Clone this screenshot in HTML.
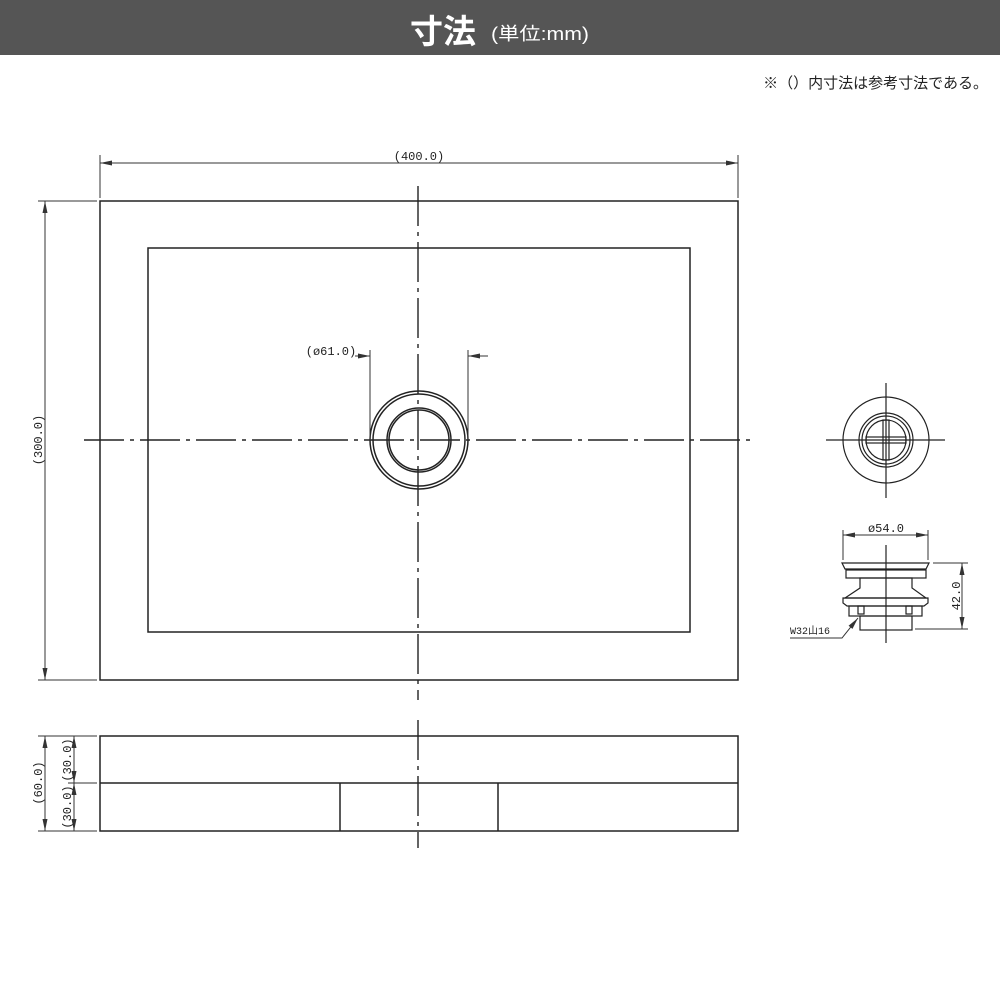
<!DOCTYPE html>
<html><head><meta charset="utf-8"><style>
body{margin:0;background:#fff;}
svg{display:block;}
</style></head><body>
<svg width="1000" height="1000" viewBox="0 0 1000 1000" xmlns="http://www.w3.org/2000/svg" font-family="Liberation Mono, DejaVu Sans Mono, monospace">
<defs>
<marker id="a" viewBox="0 0 12 6" refX="12" refY="3" markerWidth="12" markerHeight="6" orient="auto-start-reverse" markerUnits="userSpaceOnUse"><path d="M0,0.5 L12,3 L0,5.5 Z" fill="#333"/></marker>
</defs>
<rect x="0" y="0" width="1000" height="55" fill="#555"/>
<text x="410" y="43" fill="#fff" font-family="Liberation Sans, Noto Sans CJK JP, sans-serif" font-size="33" font-weight="bold">寸法</text>
<text x="491" y="40" fill="#fff" font-family="Liberation Sans, Noto Sans CJK JP, sans-serif" font-size="18" textLength="98" lengthAdjust="spacingAndGlyphs">(単位:mm)</text>
<text x="988" y="88" fill="#222" text-anchor="end" font-family="Liberation Sans, Noto Sans CJK JP, sans-serif" font-size="15">※（）内寸法は参考寸法である。</text>

<g stroke="#222" fill="none" stroke-width="1.5">
<rect x="100" y="201" width="638" height="479"/>
<rect x="148" y="248" width="542" height="384"/>
<circle cx="419" cy="440" r="49"/>
<circle cx="419" cy="440" r="46"/>
<circle cx="419" cy="440" r="32"/>
<circle cx="419" cy="440" r="30"/>
<rect x="100" y="736" width="638" height="95"/>
<line x1="100" y1="783" x2="738" y2="783"/>
<line x1="340" y1="783" x2="340" y2="831"/>
<line x1="498" y1="783" x2="498" y2="831"/>
</g>
<g stroke="#222" stroke-width="1.4" stroke-dasharray="40,6,4,6">
<line x1="418" y1="186" x2="418" y2="700"/>
<line x1="84" y1="440" x2="754" y2="440"/>
<line x1="418" y1="720" x2="418" y2="848"/>
</g>
<g stroke="#333" stroke-width="1" fill="none">
<line x1="100" y1="155" x2="100" y2="198"/>
<line x1="738" y1="155" x2="738" y2="198"/>
<line x1="100" y1="163" x2="738" y2="163" marker-start="url(#a)" marker-end="url(#a)"/>
<line x1="38" y1="201" x2="97" y2="201"/>
<line x1="38" y1="680" x2="97" y2="680"/>
<line x1="45" y1="201" x2="45" y2="680" marker-start="url(#a)" marker-end="url(#a)"/>
<line x1="370" y1="350" x2="370" y2="440"/>
<line x1="468" y1="350" x2="468" y2="440"/>
<line x1="355" y1="356" x2="370" y2="356" marker-end="url(#a)"/>
<line x1="488" y1="356" x2="468" y2="356" marker-end="url(#a)"/>
<line x1="38" y1="736" x2="97" y2="736"/>
<line x1="68" y1="783" x2="97" y2="783"/>
<line x1="38" y1="831" x2="97" y2="831"/>
<line x1="45" y1="736" x2="45" y2="831" marker-start="url(#a)" marker-end="url(#a)"/>
<line x1="74" y1="736" x2="74" y2="783" marker-start="url(#a)" marker-end="url(#a)"/>
<line x1="74" y1="783" x2="74" y2="831" marker-start="url(#a)" marker-end="url(#a)"/>
</g>
<g fill="#222" font-size="12">
<text x="419" y="160" text-anchor="middle">(400.0)</text>
<text x="331" y="355" text-anchor="middle">(ø61.0)</text>
<text transform="translate(42,440) rotate(-90)" text-anchor="middle">(300.0)</text>
<text transform="translate(42,783) rotate(-90)" text-anchor="middle">(60.0)</text>
<text transform="translate(71,760) rotate(-90)" text-anchor="middle">(30.0)</text>
<text transform="translate(71,807) rotate(-90)" text-anchor="middle">(30.0)</text>
</g>

<g stroke="#222" fill="none" stroke-width="1.2">
<circle cx="886" cy="440" r="43"/>
<circle cx="886" cy="440" r="27"/>
<circle cx="886" cy="440" r="24"/>
<circle cx="886" cy="440" r="20"/>
<line x1="826" y1="440" x2="945" y2="440"/>
<line x1="886" y1="383" x2="886" y2="498"/>
<rect x="866" y="437" width="40" height="6"/>
<rect x="883" y="420" width="6" height="40"/>
</g>
<g stroke="#222" fill="none" stroke-width="1.2">
<path d="M842,563 L929,563 L926,569 L845,569 Z"/>
<rect x="846" y="570" width="80" height="8"/>
<path d="M860,578 L912,578 L912,588 L926,598 L845,598 L860,588 Z"/>
<path d="M843,598 L928,598 L928,603 L924,606 L847,606 L843,603 Z"/>
<rect x="849" y="606" width="73" height="10"/>
<rect x="858" y="606" width="6" height="8"/>
<rect x="906" y="606" width="6" height="8"/>
<rect x="860" y="616" width="52" height="14"/>
<line x1="886" y1="545" x2="886" y2="643"/>
</g>
<g stroke="#333" stroke-width="1" fill="none">
<line x1="843" y1="530" x2="843" y2="560"/>
<line x1="928" y1="530" x2="928" y2="560"/>
<line x1="843" y1="535" x2="928" y2="535" marker-start="url(#a)" marker-end="url(#a)"/>
<line x1="933" y1="563" x2="968" y2="563"/>
<line x1="915" y1="629" x2="968" y2="629"/>
<line x1="962" y1="563" x2="962" y2="629" marker-start="url(#a)" marker-end="url(#a)"/>
<path d="M790,638 L842,638 L858,618" marker-end="url(#a)"/>
</g>
<g fill="#222" font-size="12">
<text x="886" y="532" text-anchor="middle">ø54.0</text>
<text transform="translate(960,596) rotate(-90)" text-anchor="middle">42.0</text>
<text x="790" y="634" font-size="10" font-family="Liberation Mono, Noto Sans CJK JP, monospace">W32山16</text>
</g>
</svg>
</body></html>
